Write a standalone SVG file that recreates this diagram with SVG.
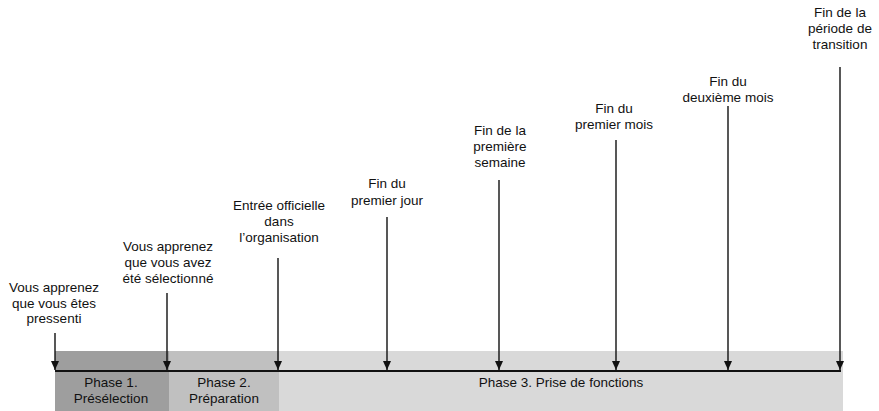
<svg xmlns="http://www.w3.org/2000/svg" width="879" height="411" viewBox="0 0 879 411">
<style>
text{font-family:"Liberation Sans",Arial,sans-serif;font-size:13.5px;fill:#111;text-anchor:middle}
.conn{stroke:#111;stroke-width:1.4;fill:none}
.axis{stroke:#111;stroke-width:2;fill:none}
</style>
<defs>
<marker id="ah" markerWidth="9" markerHeight="8" refX="9" refY="4" orient="auto" markerUnits="userSpaceOnUse" viewBox="0 0 9 8">
<path d="M0,0 L9,4 L0,8 Z" fill="#111"/>
</marker>
</defs>
<g id="phase1">
<rect x="55" y="351" width="114" height="60" fill="#9e9e9e"/>
<text x="111" y="387">Phase 1.</text>
<text x="111" y="403">Présélection</text>
</g>
<g id="phase2">
<rect x="169" y="351" width="110" height="60" fill="#c0c0c0"/>
<text x="224" y="387">Phase 2.</text>
<text x="224" y="403">Préparation</text>
</g>
<g id="phase3">
<rect x="279" y="351" width="564" height="60" fill="#d9d9d9"/>
<text x="561" y="387">Phase 3. Prise de fonctions</text>
</g>
<g id="connectors">
<line class="axis" x1="55" y1="371" x2="841" y2="371"/>
<line class="conn" x1="55" y1="333" x2="55" y2="370" marker-end="url(#ah)"/>
<line class="conn" x1="167" y1="293" x2="167" y2="370" marker-end="url(#ah)"/>
<line class="conn" x1="278" y1="258" x2="278" y2="370" marker-end="url(#ah)"/>
<line class="conn" x1="387" y1="217" x2="387" y2="370" marker-end="url(#ah)"/>
<line class="conn" x1="499" y1="180" x2="499" y2="370" marker-end="url(#ah)"/>
<line class="conn" x1="616" y1="140" x2="616" y2="370" marker-end="url(#ah)"/>
<line class="conn" x1="728" y1="106" x2="728" y2="370" marker-end="url(#ah)"/>
<line class="conn" x1="840" y1="67" x2="840" y2="370" marker-end="url(#ah)"/>
</g>
<g id="m1">
<text x="54" y="292">Vous apprenez</text>
<text x="54" y="307.5">que vous êtes</text>
<text x="54" y="323">pressenti</text>
</g>
<g id="m2">
<text x="168" y="251">Vous apprenez</text>
<text x="168" y="267">que vous avez</text>
<text x="168" y="283">été sélectionné</text>
</g>
<g id="m3">
<text x="279" y="210">Entrée officielle</text>
<text x="279" y="226">dans</text>
<text x="279" y="242">l’organisation</text>
</g>
<g id="m4">
<text x="387" y="188">Fin du</text>
<text x="387" y="205">premier jour</text>
</g>
<g id="m5">
<text x="500" y="135">Fin de la</text>
<text x="500" y="151">première</text>
<text x="500" y="166.5">semaine</text>
</g>
<g id="m6">
<text x="614" y="113">Fin du</text>
<text x="614" y="129">premier mois</text>
</g>
<g id="m7">
<text x="728" y="86">Fin du</text>
<text x="728" y="102">deuxième mois</text>
</g>
<g id="m8">
<text x="840" y="17">Fin de la</text>
<text x="840" y="33">période de</text>
<text x="840" y="49">transition</text>
</g>
</svg>
